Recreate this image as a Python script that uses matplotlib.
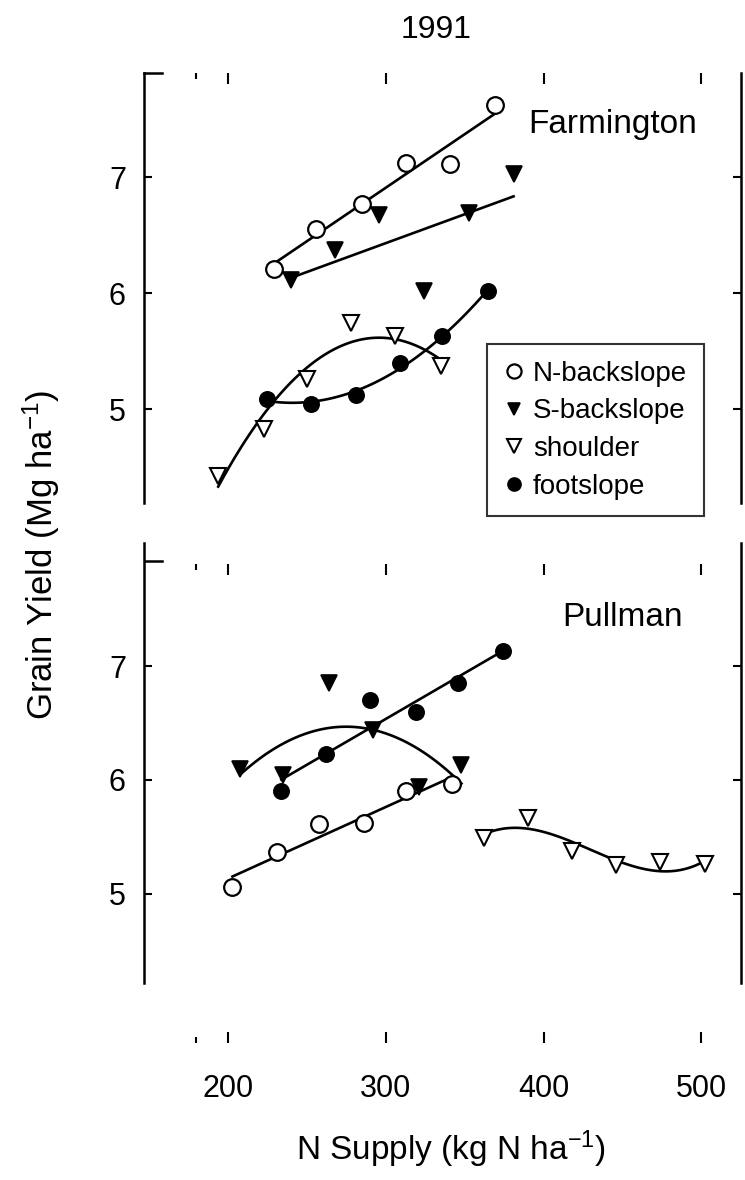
import numpy as np
import matplotlib
matplotlib.use("Agg")
import matplotlib.pyplot as plt
from matplotlib.ticker import FixedLocator

plt.rcParams['font.family'] = ['Liberation Sans', 'DejaVu Sans']
plt.rcParams['mathtext.default'] = 'regular'

# Farmington, 1991 (x = N supply, y = grain yield)
far_nback_x = [229, 256, 285, 313, 341, 369]
far_nback_y = [6.21, 6.55, 6.77, 7.12, 7.11, 7.62]
far_sback_x = [240, 268, 296, 324, 353, 381]
far_sback_y = [6.11, 6.37, 6.67, 6.02, 6.69, 7.03]
far_shoulder_x = [194, 223, 250, 278, 306, 335]
far_shoulder_y = [4.42, 4.83, 5.26, 5.74, 5.63, 5.37]
far_foot_x = [225, 253, 281, 309, 336, 365]
far_foot_y = [5.09, 5.04, 5.12, 5.40, 5.63, 6.02]

# Pullman, 1991
pul_nback_x = [203, 231, 258, 286, 313, 342]
pul_nback_y = [5.06, 5.37, 5.61, 5.62, 5.90, 5.96]
pul_sback_x = [208, 235, 264, 292, 321, 348]
pul_sback_y = [6.10, 6.04, 6.85, 6.44, 5.94, 6.13]
pul_shoulder_x = [362, 390, 418, 446, 474, 502]
pul_shoulder_y = [5.49, 5.67, 5.38, 5.25, 5.28, 5.26]
pul_foot_x = [234, 262, 290, 319, 346, 374]
pul_foot_y = [5.90, 6.23, 6.70, 6.60, 6.85, 7.13]

labels = ["N-backslope", "S-backslope", "shoulder", "footslope"]
x_ticks = [200, 300, 400, 500]
y_ticks = [5, 6, 7]

styles = [
    dict(marker='o', mfc='white', mec='black', ms=12, mew=1.6),
    dict(marker='v', mfc='black', mec='black', ms=11, mew=1.2),
    dict(marker='v', mfc='white', mec='black', ms=12, mew=1.5),
    dict(marker='o', mfc='black', mec='black', ms=11, mew=1.2),
]


def fit_line(ax, x, y, deg):
    # regression curve drawn over the range of the data
    c = np.polyfit(x, y, deg)
    xs = np.linspace(min(x), max(x), 100)
    ax.plot(xs, np.polyval(c, xs), color='black', lw=1.9, zorder=2)


def setup(ax, ylim, top_pos, bottom=False):
    ax.set_xlim(147, 525)
    ax.set_ylim(*ylim)
    for s in ['top', 'bottom']:
        ax.spines[s].set_color('none')
    for s in ['left', 'right']:
        ax.spines[s].set_linewidth(1.8)
    ax.spines['top'].set_position(('data', top_pos))
    ax.xaxis.set_major_locator(FixedLocator(x_ticks))
    ax.xaxis.set_minor_locator(FixedLocator([180]))
    ax.yaxis.set_major_locator(FixedLocator(y_ticks))
    ax.tick_params(axis='y', which='both', direction='in', length=6, width=1.5,
                   left=True, right=True, labelsize=22, pad=13)
    ax.tick_params(axis='x', which='major', direction='in', length=8, width=1.5,
                   top=True, bottom=bottom, labelbottom=bottom, labelsize=22, pad=22)
    ax.tick_params(axis='x', which='minor', direction='in', length=4, width=1.5,
                   top=True, bottom=bottom)


fig = plt.figure(figsize=(7.45, 11.8), dpi=100)
ax1 = fig.add_axes([0.1933, 0.5737, 0.8013, 0.3644])
ax2 = fig.add_axes([0.1933, 0.1161, 0.8013, 0.4237])

# Farmington panel
fit_line(ax1, far_nback_x, far_nback_y, 1)
fit_line(ax1, far_sback_x, far_sback_y, 1)
fit_line(ax1, far_shoulder_x, far_shoulder_y, 2)
fit_line(ax1, far_foot_x, far_foot_y, 2)
far_sets = [(far_nback_x, far_nback_y), (far_sback_x, far_sback_y),
            (far_shoulder_x, far_shoulder_y), (far_foot_x, far_foot_y)]
for (x, y), st, lab in zip(far_sets, styles, labels):
    ax1.plot(x, y, ls='none', zorder=3, label=lab, **st)
setup(ax1, (4.19, 7.897), 7.897)
ax1.axhline(7.897, 0, 0.03, color='black', lw=1.8, clip_on=False)
ax1.text(390, 7.45, "Farmington", fontsize=24, va='center', ha='left')
leg = ax1.legend(loc='upper left', bbox_to_anchor=(0.575, 0.37), frameon=True,
                 fancybox=False, edgecolor='black', fontsize=20, handlelength=0.7,
                 handletextpad=0.35, labelspacing=0.42, borderpad=0.6,
                 borderaxespad=0, markerscale=0.85)
leg.get_frame().set_linewidth(1.5)

# Pullman panel
fit_line(ax2, pul_nback_x, pul_nback_y, 1)
fit_line(ax2, pul_sback_x, pul_sback_y, 2)
fit_line(ax2, pul_shoulder_x, pul_shoulder_y, 3)
fit_line(ax2, pul_foot_x, pul_foot_y, 1)
pul_sets = [(pul_nback_x, pul_nback_y), (pul_sback_x, pul_sback_y),
            (pul_shoulder_x, pul_shoulder_y), (pul_foot_x, pul_foot_y)]
for (x, y), st in zip(pul_sets, styles):
    ax2.plot(x, y, ls='none', zorder=3, **st)
setup(ax2, (3.69, 8.08), 7.9, bottom=True)
ax2.spines['left'].set_bounds(4.22, 8.08)
ax2.spines['right'].set_bounds(4.22, 8.08)
ax2.axhline(7.92, 0, 0.03, color='black', lw=1.8)
ax2.text(412, 7.43, "Pullman", fontsize=24, va='center', ha='left')

fig.text(0.585, 0.975, "1991", fontsize=23, ha='center', va='center')
fig.text(0.055, 0.53, "Grain Yield (Mg ha$^{-1}$)", fontsize=25, rotation=90,
         ha='center', va='center')
fig.text(0.605, 0.026, "N Supply (kg N ha$^{-1}$)", fontsize=24, ha='center', va='center')

fig.savefig("out.png", dpi=100)
